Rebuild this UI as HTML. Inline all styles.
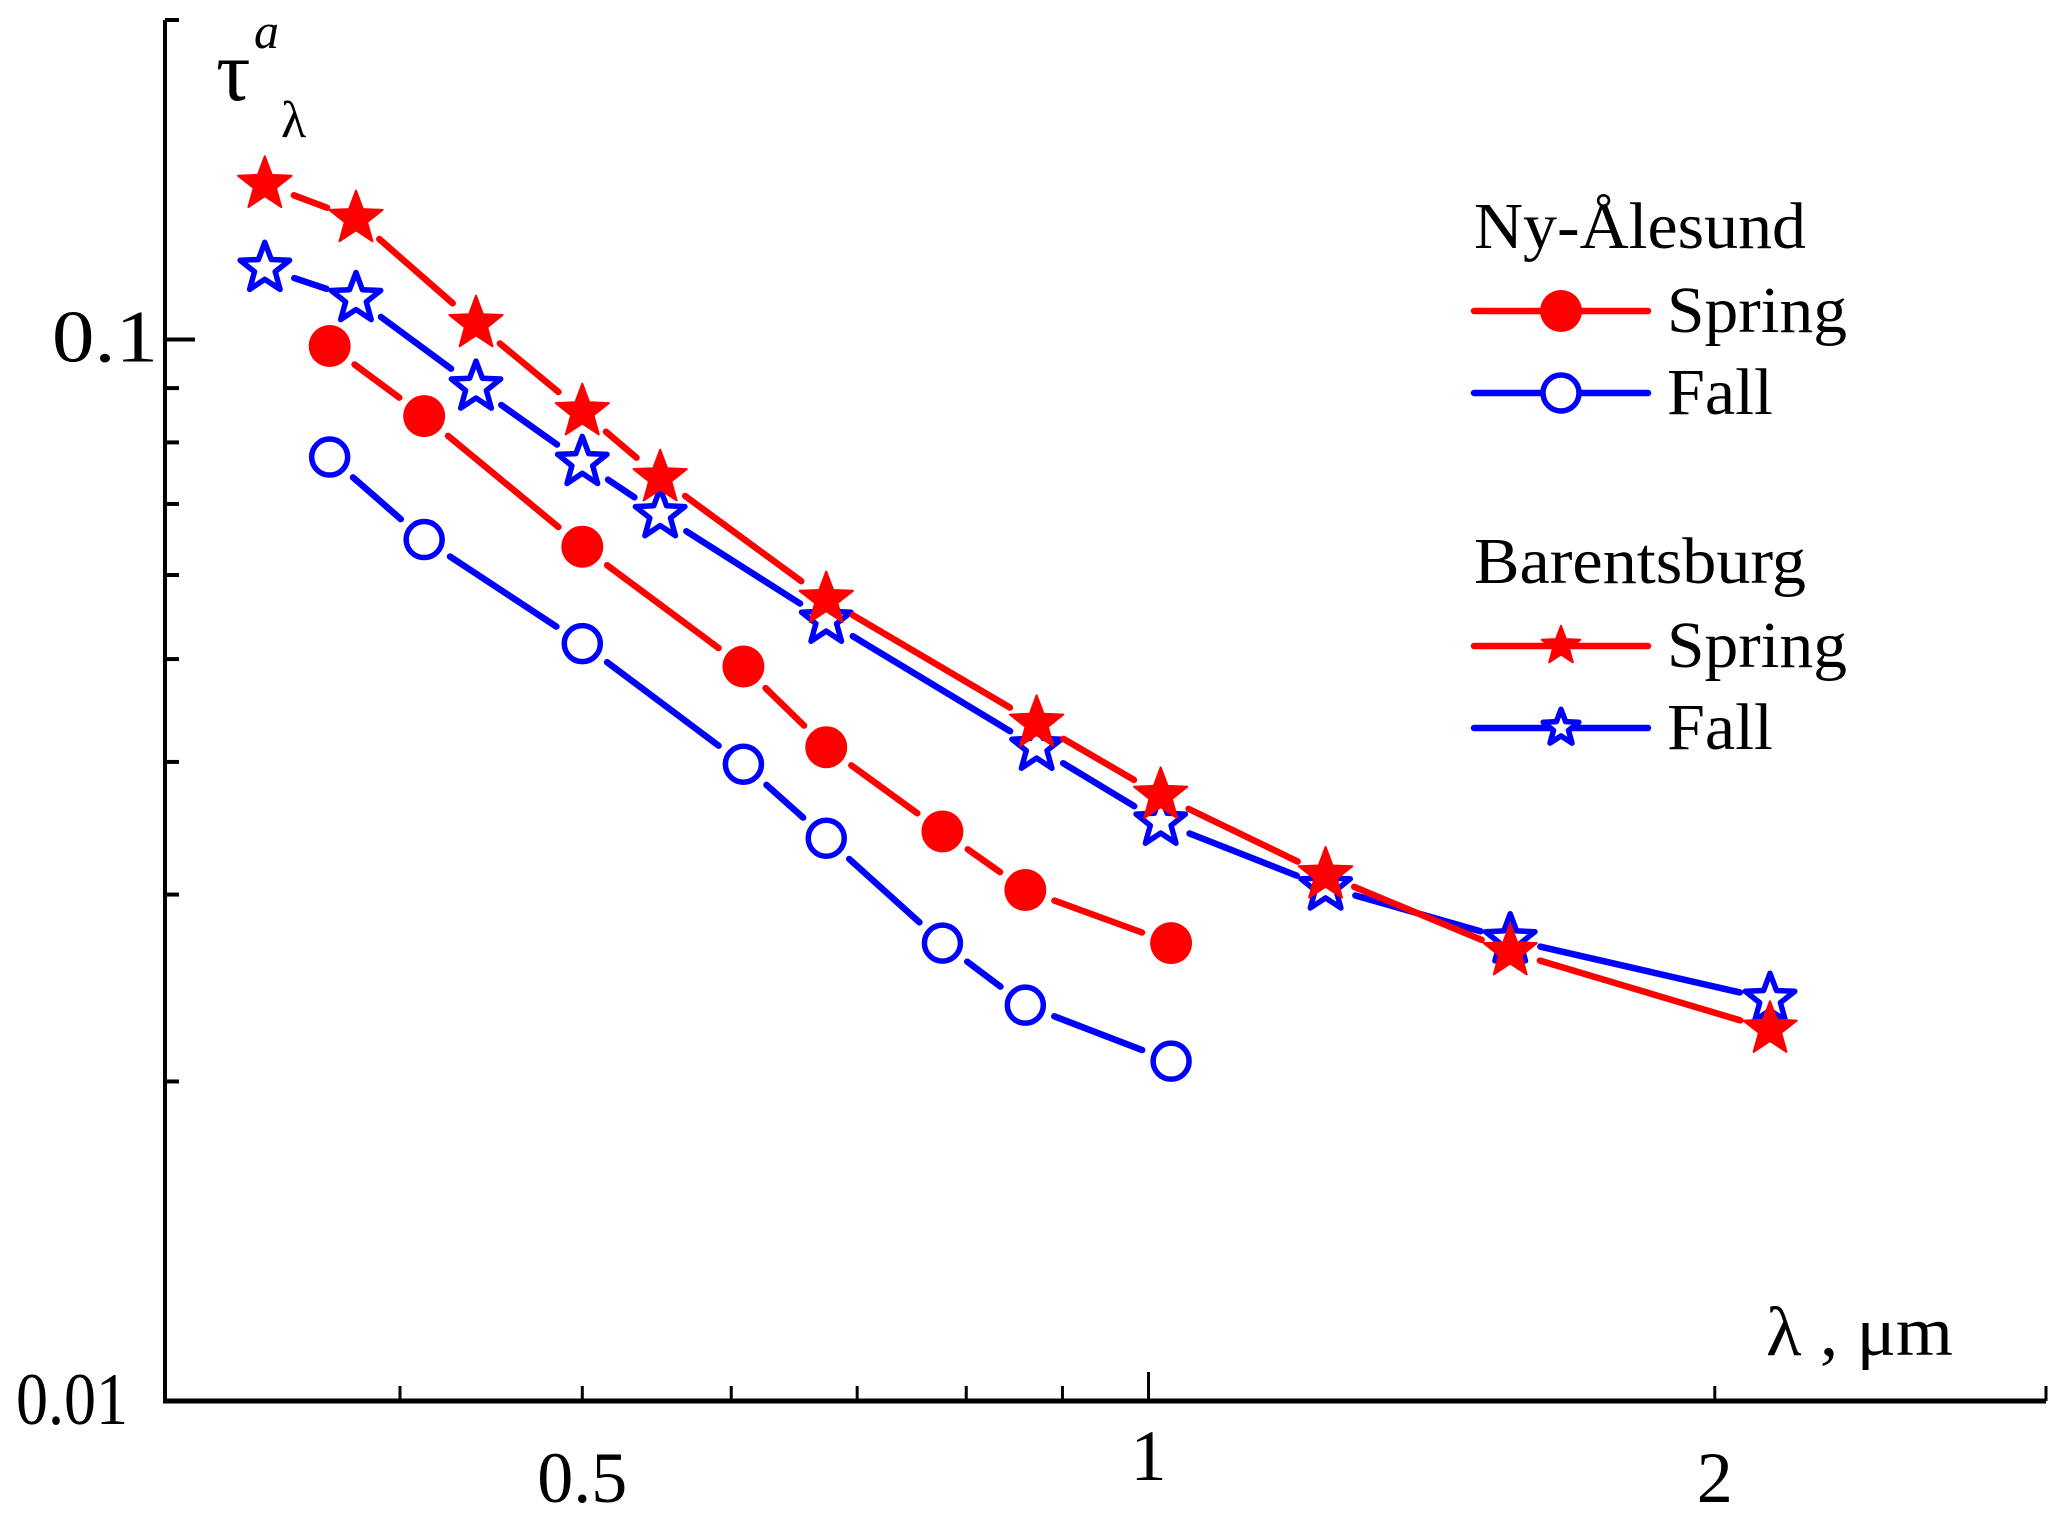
<!DOCTYPE html>
<html><head><meta charset="utf-8">
<style>
html,body{margin:0;padding:0;background:#fff;}
svg{display:block;}
text{font-family:"Liberation Serif","DejaVu Serif",serif;fill:#000;}
</style></head>
<body>
<svg id="chart" width="2067" height="1522" viewBox="0 0 2067 1522" xmlns="http://www.w3.org/2000/svg">
<g id="axes"></g>
<g id="series"></g>
<g id="legend">
  <text x="1474" y="248" font-size="66" textLength="332" lengthAdjust="spacingAndGlyphs">Ny-Ålesund</text>
  <text x="1474" y="583" font-size="66" textLength="332" lengthAdjust="spacingAndGlyphs">Barentsburg</text>
</g>
<text x="216" y="100" font-size="86">τ</text>
<text x="254" y="48" font-size="50" font-style="italic">a</text>
<text x="281" y="137" font-size="52">λ</text>
<text x="1766" y="1355" font-size="70" textLength="187" lengthAdjust="spacingAndGlyphs">λ , μm</text>
</svg>
<script>
// ---- data ----
const nyWavelengths = [0.367, 0.412, 0.500, 0.609, 0.674, 0.777, 0.860, 1.028];
const nySpring = [0.0986, 0.0847, 0.0638, 0.0492, 0.0413, 0.0344, 0.0303, 0.0270];
const nyFall = [0.0775, 0.0648, 0.0517, 0.0398, 0.0339, 0.0270, 0.0236, 0.0209];
const bbWavelengths = [0.339, 0.379, 0.439, 0.500, 0.550, 0.674, 0.872, 1.015, 1.242, 1.557, 2.14];
const bbSpring = [0.140, 0.130, 0.1035, 0.0855, 0.0741, 0.0569, 0.0435, 0.0372, 0.0313, 0.0265, 0.0224];
const bbFall = [0.1167, 0.1093, 0.0902, 0.0766, 0.0684, 0.0544, 0.0413, 0.0351, 0.0305, 0.0272, 0.0239];
const xTickValues = [0.4, 0.5, 0.6, 0.7, 0.8, 0.9, 1, 2, 3];
const xTickLabels = ['', '0.5', '', '', '', '', '1', '2', ''];
const yTickValues = [0.02, 0.03, 0.04, 0.05, 0.06, 0.07, 0.08, 0.09, 0.1, 0.2];
const yTickLabels = ['', '', '', '', '', '', '', '', '0.1', ''];

// ---- scales ----
const X0 = 165, X1 = 2046, Y0 = 1401, YTOP = 20;
const xMin = 0.3, xMax = 3.0, yMin = 0.01, yMax = 0.2;
const xs = v => X0 + (Math.log10(v) - Math.log10(xMin)) / (Math.log10(xMax) - Math.log10(xMin)) * (X1 - X0);
const ys = v => Y0 - (Math.log10(v) - Math.log10(yMin)) / (Math.log10(yMax) - Math.log10(yMin)) * (Y0 - YTOP);

const NS = 'http://www.w3.org/2000/svg';
function mk(tag, attrs, parent) {
  const e = document.createElementNS(NS, tag);
  for (const k in attrs) e.setAttribute(k, attrs[k]);
  parent.appendChild(e);
  return e;
}
const axes = document.getElementById('axes');
const series = document.getElementById('series');
const legend = document.getElementById('legend');

let el = mk('line', {x1: X0, y1: YTOP, x2: X0, y2: Y0 + 2, stroke: '#000', 'stroke-width': 4}, axes);


el = mk('line', {x1: X0 - 2, y1: Y0, x2: X1, y2: Y0, stroke: '#000', 'stroke-width': 5}, axes);


el = mk('line', {x1: X0, y1: YTOP, x2: X0 + 12, y2: YTOP, stroke: '#000', 'stroke-width': 4}, axes);



xTickValues.forEach((v, i) => {
  const x = xs(v);
  const major = xTickLabels[i] === '1';
  const t = mk('line', {x1: x, y1: Y0, x2: x, y2: Y0 - (major ? 29 : 15), stroke: '#000', 'stroke-width': 3}, axes);
  
  
  if (xTickLabels[i]) {
    const ty = xTickLabels[i] === '1' ? 1480 : 1502;
    const lb = mk('text', {x: x, y: ty, 'font-size': 72, 'text-anchor': 'middle'}, axes);
    lb.textContent = xTickLabels[i];
    
    
  }
});
yTickValues.forEach((v, i) => {
  const y = ys(v);
  const major = yTickLabels[i] !== '';
  const t = mk('line', {x1: X0, y1: y, x2: X0 + (major ? 30 : 14), y2: y, stroke: '#000', 'stroke-width': 4}, axes);
  
  
  if (major) {
    const lb = mk('text', {x: 158, y: y + 22, 'font-size': 74, 'text-anchor': 'end', textLength: 106, lengthAdjust: 'spacingAndGlyphs'}, axes);
    lb.textContent = yTickLabels[i];
    
    
  }
});
const lb01 = mk('text', {x: 128, y: 1424, 'font-size': 74, 'text-anchor': 'end', textLength: 112, lengthAdjust: 'spacingAndGlyphs'}, axes);
lb01.textContent = '0.01';



function starPath(cx, cy, R) {
  const r = R * 0.42;
  let d = '';
  for (let k = 0; k < 10; k++) {
    const a = -Math.PI / 2 + k * Math.PI / 5;
    const rr = k % 2 === 0 ? R : r;
    d += (k ? 'L' : 'M') + (cx + rr * Math.cos(a)).toFixed(1) + ',' + (cy + rr * Math.sin(a)).toFixed(1);
  }
  return d + 'Z';
}
function marker(kind, color, cx, cy, parent, name, scale) {
  let m;
  if (kind === 'circle-filled') m = mk('circle', {cx, cy, r: 21 * scale, fill: color}, parent);
  else if (kind === 'circle-open') m = mk('circle', {cx, cy, r: 18 * scale, fill: '#fff', stroke: color, 'stroke-width': 5.5}, parent);
  else if (kind === 'star-filled') m = mk('path', {d: starPath(cx, cy, 28 * scale), fill: color, 'stroke-linejoin': 'round', stroke: color, 'stroke-width': 2}, parent);
  else m = mk('path', {d: starPath(cx, cy, 26 * scale), fill: '#fff', stroke: color, 'stroke-width': 5.5, 'stroke-linejoin': 'round'}, parent);
  
  
}
function drawSeries(wl, vals, color, kind, name) {
  const g = mk('g', {}, series);
  
  
  const pts = wl.map((w, i) => [xs(w), ys(vals[i])]);
  const gap = 31;
  for (let i = 0; i < pts.length - 1; i++) {
    const [ax, ay] = pts[i], [bx, by] = pts[i + 1];
    const L = Math.hypot(bx - ax, by - ay);
    if (L <= 2 * gap) continue;
    const ux = (bx - ax) / L, uy = (by - ay) / L;
    const s = mk('line', {x1: ax + ux * gap, y1: ay + uy * gap, x2: bx - ux * gap, y2: by - uy * gap, stroke: color, 'stroke-width': 6.5, 'stroke-linecap': 'round'}, g);
    
    
  }
  pts.forEach(p => marker(kind, color, p[0], p[1], g, name + '-point', 1));
}
const RED = '#ff0000', BLUE = '#0000ff';
drawSeries(nyWavelengths, nySpring, RED, 'circle-filled', 'ny-alesund-spring');
drawSeries(nyWavelengths, nyFall, BLUE, 'circle-open', 'ny-alesund-fall');
drawSeries(bbWavelengths, bbFall, BLUE, 'star-open', 'barentsburg-fall');
drawSeries(bbWavelengths, bbSpring, RED, 'star-filled', 'barentsburg-spring');

const legendRows = [
  {y: 311, color: RED, kind: 'circle-filled', label: 'Spring', w: 180, name: 'legend-ny-spring'},
  {y: 393, color: BLUE, kind: 'circle-open', label: 'Fall', w: 106, name: 'legend-ny-fall'},
  {y: 646, color: RED, kind: 'star-filled', label: 'Spring', w: 180, name: 'legend-bb-spring'},
  {y: 728, color: BLUE, kind: 'star-open', label: 'Fall', w: 106, name: 'legend-bb-fall'}
];
legendRows.forEach(r => {
  const g = mk('g', {}, legend);
  
  
  const ln = mk('line', {x1: 1474, y1: r.y, x2: 1648, y2: r.y, stroke: r.color, 'stroke-width': 6.5, 'stroke-linecap': 'round'}, g);
  
  
  marker(r.kind, r.color, 1561, r.y, g, 'legend-marker', r.kind.startsWith('star') ? 0.72 : 1);
  const t = mk('text', {x: 1667, y: r.y + 21, 'font-size': 66, textLength: r.w, lengthAdjust: 'spacingAndGlyphs'}, g);
  t.textContent = r.label;
  
  
});
</script>
</body></html>
